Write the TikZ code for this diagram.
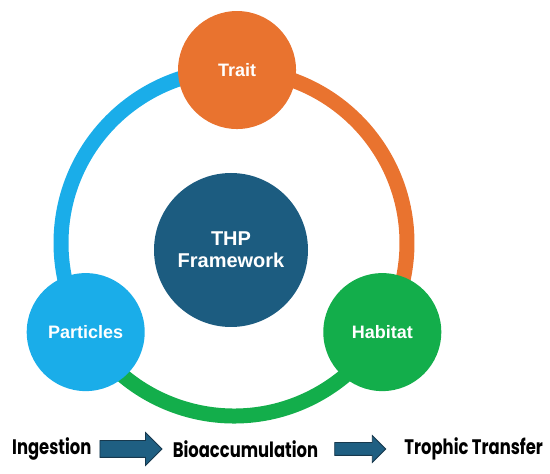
\documentclass[tikz,border=0pt]{standalone}
\usepackage{fontspec}
\setmainfont{Liberation Sans}
\newfontfamily\rowfont[FakeStretch=0.78]{Poppins}
\usetikzlibrary{positioning,shapes.arrows,backgrounds}

\definecolor{traitorange}{HTML}{E9732F}
\definecolor{particleblue}{HTML}{1AADE9}
\definecolor{habitatgreen}{HTML}{13AE4B}
\definecolor{thpblue}{HTML}{1C5C80}
\definecolor{arrowblue}{HTML}{1F5F82}
\definecolor{arrowline}{HTML}{17384D}

\begin{document}
\begin{tikzpicture}[
  x=1pt, y=1pt,
  ring/.style = {line width=15pt},
  every node/.style = {
    shape=circle,
    text=white,
    align=center,
    inner sep=0pt,
    font=\bfseries\fontsize{18}{20}\selectfont
  },
  satellite/.style = {minimum size=118pt},
  stage/.style = {
    shape=rectangle,
    text=black,
    font=\rowfont\bfseries\fontsize{21}{23}\selectfont
  },
  fatarrow/.style = {
    shape=single arrow,
    draw=arrowline,
    fill=arrowblue,
    line width=0.8pt,
    inner xsep=0pt
  }
]

\useasboundingbox (0,0) rectangle (550,474);
\coordinate (ringc) at (234,231);

% circle of the framework
\node[satellite, fill=traitorange] (trait) at ([shift={(89:173)}]ringc) {Trait};
\node[satellite, fill=particleblue] (particles) at ([shift={(211:173)}]ringc) {Particles};
\node[satellite, fill=habitatgreen] (habitat) at ([shift={(329:173)}]ringc) {Habitat};
\node[minimum size=154pt, fill=thpblue,
      font=\bfseries\fontsize{20}{22}\selectfont] (thp) at (231,224) {THP\\Framework};

\begin{scope}[on background layer]
  \draw[ring, particleblue] (trait.center) arc[start angle=89, end angle=211, radius=173];
  \draw[ring, traitorange] (trait.center) arc[start angle=89, end angle=-31, radius=173];
  \draw[ring, habitatgreen] (particles.center) arc[start angle=211, end angle=329, radius=173];
\end{scope}

% bottom row
\node[stage, anchor=west] (ingestion) at (12,25) {Ingestion};
\node[fatarrow, inner ysep=8pt, single arrow head extend=8pt,
      minimum height=62pt, right=8pt of ingestion] (arrowa) {};
\node[stage, right=10pt of arrowa] (bioacc) {Bioaccumulation};
\node[fatarrow, inner ysep=6pt, single arrow head extend=7pt,
      minimum height=51pt, right=16pt of bioacc] (arrowb) {};
\node[stage, right=18pt of arrowb] (trophic) {Trophic Transfer};

\end{tikzpicture}
\end{document}
